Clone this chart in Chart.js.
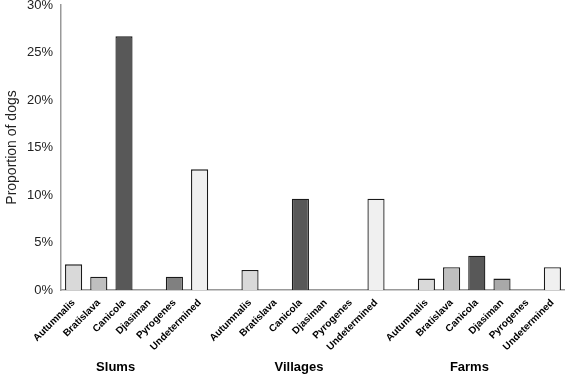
<!DOCTYPE html>
<html>
<head>
<meta charset="utf-8">
<script src="https://cdn.jsdelivr.net/npm/chart.js@4/dist/chart.umd.min.js"></script>
<style>
  html, body { margin: 0; padding: 0; background: #fff; }
  #wrap { width: 565px; height: 375px; position: relative; }
</style>
</head>
<body>
<div id="wrap"><canvas id="grafico"></canvas></div>
<script>
// Dados (proporção de cães, %)
const grupos = ['Slums', 'Villages', 'Farms'];
const sorovares = ['Autumnalis', 'Bratislava', 'Canicola', 'Djasiman', 'Pyrogenes', 'Undetermined'];
const slums = [2.7, 1.4, 26.7, 0, 1.4, 12.7];
const villages = [2.1, 0, 9.6, 0, 0, 9.6];
const farms = [1.2, 2.4, 3.6, 1.2, 0, 2.4];
const yTicks = [0, 5, 10, 15, 20, 25, 30];

const coresSorovar = ['#d9d9d9', '#bfbfbf', '#585858', '#a9a9a9', '#808080', '#f0f0f0'];
// deslocamento do nome de cada grupo em relação ao centro do grupo
const ajusteGrupo = [-21, -14, -20];

// monta labels / valores com uma coluna vazia entre grupos
const labels = [];
const valores = [];
const cores = [];
[slums, villages, farms].forEach((serie, g) => {
    if (g > 0) { labels.push(''); valores.push(null); cores.push('#fff'); }
    serie.forEach((v, i) => {
        labels.push(sorovares[i]);
        valores.push(v === 0 ? null : v);
        cores.push(coresSorovar[i]);
    });
});

// plugin para escrever o nome do grupo embaixo
const rotulosGrupos = {
    id: 'rotulosGrupos',
    afterDraw(chart) {
        const ctx = chart.ctx;
        const x = chart.scales.x;
        ctx.save();
        ctx.font = 'bold 13px "Liberation Sans", Arial, sans-serif';
        ctx.fillStyle = '#000';
        ctx.textAlign = 'center';
        ctx.textBaseline = 'middle';
        grupos.forEach((nome, g) => {
            const meio = g * 7 + 2.5;
            const px = (x.getPixelForValue(Math.floor(meio)) + x.getPixelForValue(Math.ceil(meio))) / 2;
            ctx.fillText(nome, px + ajusteGrupo[g], 367);
        });
        ctx.restore();
    }
};

new Chart(document.getElementById('grafico'), {
    type: 'bar',
    data: {
        labels: labels,
        datasets: [{
            data: valores,
            backgroundColor: cores,
            borderColor: '#1a1a1a',
            borderWidth: 1.3,
            borderSkipped: 'bottom',
            barPercentage: 0.68,
            categoryPercentage: 1
        }]
    },
    options: {
        responsive: true,
        maintainAspectRatio: false,
        animation: false,
        layout: { padding: { top: 5, right: 0, left: 0, bottom: 0 } },
        scales: {
            x: {
                grid: { display: false, drawTicks: false },
                border: { color: '#999', width: 1.5 },
                afterFit(scale) {
                    scale.height = 85;
                    scale.paddingLeft = 0;
                    scale.paddingRight = 0;
                },
                ticks: {
                    autoSkip: false,
                    maxRotation: 45,
                    minRotation: 45,
                    padding: 7,
                    color: '#000',
                    font: { family: '"Liberation Sans", Arial, sans-serif', size: 10, weight: 'bold' }
                }
            },
            y: {
                min: 0,
                max: 30,
                afterFit(scale) {
                    scale.width = 61;
                    scale.paddingTop = 0;
                    scale.paddingBottom = 0;
                },
                afterBuildTicks(scale) { scale.ticks = yTicks.map(v => ({ value: v })); },
                grid: { display: false, drawTicks: true, tickLength: 4, tickColor: '#999' },
                border: { color: '#999', width: 1.5 },
                ticks: {
                    padding: 4,
                    color: '#222',
                    font: { family: '"Liberation Sans", Arial, sans-serif', size: 13 },
                    callback: v => v + '%'
                },
                title: {
                    display: true,
                    text: 'Proportion of dogs',
                    color: '#222',
                    padding: { top: 4, bottom: 1 },
                    font: { family: '"Liberation Sans", Arial, sans-serif', size: 14 }
                }
            }
        },
        plugins: {
            legend: { display: false },
            tooltip: { enabled: false }
        }
    },
    plugins: [rotulosGrupos]
});
</script>
</body>
</html>
